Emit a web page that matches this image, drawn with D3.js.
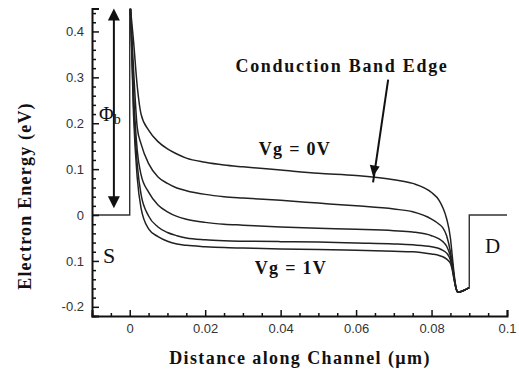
<!DOCTYPE html>
<html>
<head>
<meta charset="utf-8">
<script src="https://cdn.jsdelivr.net/npm/d3@7/dist/d3.min.js"></script>
<style>
  html, body { margin: 0; padding: 0; background: #fff; }
  svg { display: block; }
  .tick text { font-family: "Liberation Sans", Arial, sans-serif; font-size: 13px; fill: #333; }
  .serif { font-family: "Liberation Serif", "Times New Roman", serif; fill: #111; }
</style>
</head>
<body>
<svg id="chart" width="519" height="379"></svg>
<script>
// Position along the channel (µm), shared by every gate-bias curve
const positions = [0.0002, 0.001, 0.002, 0.003, 0.005, 0.0075, 0.01, 0.0125, 0.015, 0.02,
  0.025, 0.03, 0.04, 0.05, 0.06, 0.07, 0.075, 0.08, 0.082, 0.083, 0.084, 0.085,
  0.0855, 0.086, 0.0865, 0.087, 0.088, 0.09];

// Conduction band edge (eV) for each gate voltage
const bandVg0 = [0.45, 0.38, 0.28, 0.22, 0.185, 0.160, 0.144, 0.133, 0.124, 0.115,
  0.109, 0.105, 0.098, 0.091, 0.086, 0.077, 0.069, 0.049, 0.032, 0.016, -0.008, -0.05,
  -0.09, -0.13, -0.158, -0.168, -0.166, -0.158];
const bandVg025 = [0.45, 0.32, 0.19, 0.155, 0.112, 0.083, 0.069, 0.059, 0.053, 0.045,
  0.040, 0.037, 0.032, 0.026, 0.020, 0.013, 0.007, -0.009, -0.02, -0.028, -0.045, -0.08,
  -0.105, -0.135, -0.16, -0.168, -0.166, -0.158];
const bandVg05 = [0.45, 0.27, 0.14, 0.088, 0.05, 0.022, 0.007, -0.003, -0.009, -0.016,
  -0.020, -0.022, -0.026, -0.029, -0.031, -0.034, -0.037, -0.045, -0.052, -0.058, -0.068, -0.09,
  -0.11, -0.138, -0.16, -0.168, -0.166, -0.158];
const bandVg075 = [0.45, 0.24, 0.11, 0.045, -0.002, -0.026, -0.038, -0.045, -0.050, -0.054,
  -0.056, -0.057, -0.058, -0.059, -0.061, -0.063, -0.065, -0.069, -0.073, -0.077, -0.083, -0.098,
  -0.115, -0.14, -0.16, -0.168, -0.166, -0.158];
const bandVg1 = [0.45, 0.22, 0.08, 0.015, -0.03, -0.047, -0.057, -0.063, -0.066, -0.069,
  -0.071, -0.072, -0.074, -0.075, -0.077, -0.079, -0.080, -0.085, -0.088, -0.091, -0.096, -0.105,
  -0.12, -0.142, -0.16, -0.168, -0.166, -0.158];

// Source and drain contact levels
const sourceX = [-0.01, 0, 0];
const sourceE = [0, 0, 0.45];
const drainX = [0.09, 0.09, 0.1];
const drainE = [-0.158, 0, 0];

// Axis ticks and labels
const xMajor = [0, 0.02, 0.04, 0.06, 0.08, 0.1];
const xLabels = ["0", "0.02", "0.04", "0.06", "0.08", "0.1"];
const yMajor = [-0.2, -0.1, 0, 0.1, 0.2, 0.3, 0.4];
const yLabels = ["-0.2", "0.1", "0", "0.1", "0.2", "0.3", "0.4"];

const svg = d3.select("#chart");
svg.append("rect").attr("width", 519).attr("height", 379).attr("fill", "#fff");

const plotL = 92, plotR = 507, plotT = 8.5, plotB = 316;
const x = d3.scaleLinear().domain([-0.01, 0.1]).range([plotL, plotR]);
const y = d3.scaleLinear().domain([-0.22, 0.45]).range([plotB, plotT]);

svg.append("defs").append("clipPath").attr("id", "plot")
  .append("rect").attr("x", plotL).attr("y", plotT).attr("width", plotR - plotL).attr("height", plotB - plotT);

const plot = svg.append("g").attr("clip-path", "url(#plot)");
const line = d3.line().x(d => x(d[0])).y(d => y(d[1]));
const smooth = d3.line().x(d => x(d[0])).y(d => y(d[1])).curve(d3.curveMonotoneX);

// Contacts
plot.append("path").datum(d3.zip(sourceX, sourceE)).attr("d", line)
  .attr("fill", "none").attr("stroke", "#333").attr("stroke-width", 1.4);
plot.append("path").datum(d3.zip(drainX, drainE)).attr("d", line)
  .attr("fill", "none").attr("stroke", "#333").attr("stroke-width", 1.4);

// Band-edge curves
[bandVg0, bandVg025, bandVg05, bandVg075, bandVg1].forEach(vals => {
  plot.append("path").datum(d3.zip(positions, vals)).attr("d", smooth)
    .attr("fill", "none").attr("stroke", "#222").attr("stroke-width", 1.5);
});

// Axes with inward ticks
const yMinor = d3.range(-0.22, 0.4501, 0.02).map(v => +v.toFixed(2)).filter(v => !yMajor.includes(v));
const xMinor = d3.range(-0.01, 0.1001, 0.005).map(v => +v.toFixed(3)).filter(v => !xMajor.includes(v));

const gy = svg.append("g").attr("transform", `translate(${plotL},0)`);
gy.call(d3.axisLeft(y).tickValues(yMajor).tickSize(-7).tickPadding(8)
  .tickFormat((d, i) => yLabels[i]));
gy.append("g").call(d3.axisLeft(y).tickValues(yMinor).tickSize(-4).tickFormat(""))
  .select(".domain").remove();

const gx = svg.append("g").attr("transform", `translate(0,${plotB})`);
gx.call(d3.axisBottom(x).tickValues(xMajor).tickSize(-6).tickPadding(8)
  .tickFormat((d, i) => xLabels[i]));
gx.append("g").call(d3.axisBottom(x).tickValues(xMinor).tickSize(-3).tickFormat(""))
  .select(".domain").remove();

svg.selectAll(".domain").attr("stroke", "#111").attr("stroke-width", 2);
svg.selectAll(".tick line").attr("stroke", "#111").attr("stroke-width", 1.5);

// Axis titles
svg.append("text").attr("class", "serif")
  .attr("transform", `translate(31,196) rotate(-90)`)
  .attr("text-anchor", "middle").attr("font-size", 18).attr("font-weight", "bold")
  .attr("letter-spacing", 1.2)
  .text("Electron Energy (eV)");
svg.append("text").attr("class", "serif")
  .attr("x", 300).attr("y", 364)
  .attr("text-anchor", "middle").attr("font-size", 18).attr("font-weight", "bold")
  .attr("letter-spacing", 1.4)
  .text("Distance along Channel (µm)");

// Annotations
const arrowHead = (g, x1, y1, x2, y2, len, half) => {
  const a = Math.atan2(y2 - y1, x2 - x1);
  const bx = x2 - len * Math.cos(a), by = y2 - len * Math.sin(a);
  const nx = -Math.sin(a) * half, ny = Math.cos(a) * half;
  g.append("path")
    .attr("d", `M${x2},${y2}L${bx + nx},${by + ny}L${bx - nx},${by - ny}Z`)
    .attr("fill", "#111");
};

// Conduction band edge pointer
const cbx0 = x(0.0685), cby0 = y(0.295), cbx1 = x(0.0645), cby1 = y(0.084);
svg.append("line").attr("x1", cbx0).attr("y1", cby0).attr("x2", cbx1).attr("y2", cby1 + 6)
  .attr("stroke", "#111").attr("stroke-width", 2);
arrowHead(svg, cbx0, cby0, cbx1, cby1, 11, 5);
svg.append("text").attr("class", "serif")
  .attr("x", 342).attr("y", 72).attr("text-anchor", "middle")
  .attr("font-size", 18).attr("font-weight", "bold").attr("letter-spacing", 1.7)
  .text("Conduction Band Edge");

// Barrier height double arrow
const px = x(-0.0042), pTop = y(0.45), pBot = y(0.015);
svg.append("line").attr("x1", px).attr("y1", pTop + 8).attr("x2", px).attr("y2", pBot - 8)
  .attr("stroke", "#111").attr("stroke-width", 2);
arrowHead(svg, px, pBot, px, pTop, 12, 6);
arrowHead(svg, px, pTop, px, pBot, 12, 6);
const phi = svg.append("text").attr("class", "serif").attr("x", 99).attr("y", 121)
  .attr("font-size", 20);
phi.append("tspan").text("Φ");
phi.append("tspan").attr("font-size", 14).attr("dy", 3).attr("fill", "#111").text("b");

// Gate voltage labels and contacts
svg.append("text").attr("class", "serif").attr("x", 295).attr("y", 155)
  .attr("text-anchor", "middle").attr("font-size", 18).attr("font-weight", "bold")
  .attr("letter-spacing", 1.3).text("Vg = 0V");
svg.append("text").attr("class", "serif").attr("x", 291).attr("y", 274)
  .attr("text-anchor", "middle").attr("font-size", 18).attr("font-weight", "bold")
  .attr("letter-spacing", 1.3).text("Vg = 1V");
svg.append("text").attr("class", "serif").attr("x", 103).attr("y", 263)
  .attr("font-size", 22).text("S");
svg.append("text").attr("class", "serif").attr("x", 485).attr("y", 253)
  .attr("font-size", 21).text("D");
</script>
</body>
</html>
